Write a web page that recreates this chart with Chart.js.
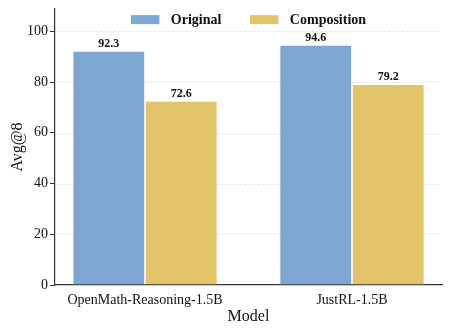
<!DOCTYPE html>
<html>
<head>
<meta charset="utf-8">
<script src="https://cdn.jsdelivr.net/npm/chart.js@4/dist/chart.umd.min.js"></script>
<style>
  html, body { margin: 0; padding: 0; background: #ffffff; }
  #wrap { width: 449px; height: 332px; }
</style>
</head>
<body>
<div id="wrap"><canvas id="c" width="449" height="332"></canvas></div>
<script>
const categories = ["OpenMath-Reasoning-1.5B", "JustRL-1.5B"];
const seriesNames = ["Original", "Composition"];
const originalValues = [92.3, 94.6];
const compositionValues = [72.6, 79.2];
const yTicks = [0, 20, 40, 60, 80, 100];
const colors = ["#7FA7D4", "#E3C46B"];

const SERIF = "'Liberation Serif', 'Times New Roman', serif";

function toPoints(vals) {
  return vals.map((v, i) => ({ x: i, y: v }));
}

const gridPlugin = {
  id: 'dashGrid',
  beforeDatasetsDraw(chart) {
    const { ctx, chartArea, scales } = chart;
    const y = scales.y;
    ctx.save();
    ctx.strokeStyle = 'rgba(200,200,200,0.55)';
    ctx.lineWidth = 0.8;
    ctx.setLineDash([2.5, 2]);
    yTicks.forEach(t => {
      if (t === 0) return;
      const py = Math.round(y.getPixelForValue(t)) + 0.5;
      ctx.beginPath();
      ctx.moveTo(chartArea.left, py);
      ctx.lineTo(chartArea.right, py);
      ctx.stroke();
    });
    ctx.restore();
  }
};

const labelPlugin = {
  id: 'barLabels',
  afterDatasetsDraw(chart) {
    const { ctx } = chart;
    ctx.save();
    ctx.font = "bold 12px " + SERIF;
    ctx.fillStyle = '#111';
    ctx.textAlign = 'center';
    ctx.textBaseline = 'bottom';
    chart.data.datasets.forEach((ds, di) => {
      const meta = chart.getDatasetMeta(di);
      meta.data.forEach((bar, i) => {
        ctx.fillText(ds.data[i].y.toFixed(1), bar.x, bar.y - 1);
      });
    });
    ctx.restore();
  }
};

const legendPlugin = {
  id: 'customLegend',
  afterDraw(chart) {
    const { ctx, chartArea } = chart;
    ctx.save();
    ctx.font = "bold 14px " + SERIF;
    const boxW = 28.5, boxH = 9, gapText = 11.4, gapItem = 28.6;
    const widths = seriesNames.map(n => ctx.measureText(n).width);
    let total = 0;
    widths.forEach((w, i) => { total += boxW + gapText + w; if (i < widths.length - 1) total += gapItem; });
    let x = (chartArea.left + chartArea.right) / 2 - total / 2;
    const cy = 19.6;
    ctx.textBaseline = 'middle';
    ctx.textAlign = 'left';
    seriesNames.forEach((n, i) => {
      ctx.fillStyle = colors[i];
      ctx.fillRect(x, cy - boxH / 2, boxW, boxH);
      x += boxW + gapText;
      ctx.fillStyle = '#111';
      ctx.fillText(n, x, cy + 0.5);
      x += widths[i] + gapItem;
    });
    ctx.restore();
  }
};

new Chart(document.getElementById('c'), {
  type: 'bar',
  data: {
    datasets: [
      { label: seriesNames[0], data: toPoints(originalValues), backgroundColor: colors[0], borderColor: 'rgba(255,255,255,0.7)', borderWidth: 0.8, categoryPercentage: 0.7, barPercentage: 1.0 },
      { label: seriesNames[1], data: toPoints(compositionValues), backgroundColor: colors[1], borderColor: 'rgba(255,255,255,0.7)', borderWidth: 0.8, categoryPercentage: 0.7, barPercentage: 1.0 }
    ]
  },
  options: {
    responsive: false,
    animation: false,
    devicePixelRatio: 1,
    layout: { padding: { top: 7, right: 7, bottom: 0, left: 0 } },
    plugins: { legend: { display: false }, tooltip: { enabled: false } },
    scales: {
      x: {
        type: 'linear',
        min: -0.435,
        max: 1.435,
        offset: false,
        afterBuildTicks(scale) { scale.ticks = categories.map((c, i) => ({ value: i })); },
        ticks: {
          callback: (v) => categories[v] !== undefined ? categories[v] : '',
          font: { family: SERIF, size: 14, lineHeight: 1 },
          color: '#111',
          padding: 0,
          maxRotation: 0,
          autoSkip: false
        },
        grid: { display: false },
        border: { display: true, color: '#333', width: 1.2 },
        title: { display: true, text: 'Model', font: { family: SERIF, size: 16 }, color: '#111', padding: { top: 0, bottom: 6 } },
        afterFit(scale) { scale.height = 47; }
      },
      y: {
        min: 0,
        max: 108.8,
        afterBuildTicks(scale) { scale.ticks = yTicks.map(v => ({ value: v })); },
        ticks: { font: { family: SERIF, size: 14, lineHeight: 1 }, color: '#111', padding: 2 },
        grid: { drawOnChartArea: false, drawTicks: true, tickLength: 5, tickColor: '#333', tickWidth: 1 },
        border: { display: true, color: '#333', width: 1.2 },
        title: { display: true, text: 'Avg@8', font: { family: SERIF, size: 16 }, color: '#111', padding: { top: 8, bottom: 0 } },
        afterFit(scale) { scale.width = 55; }
      }
    }
  },
  plugins: [gridPlugin, labelPlugin, legendPlugin]
});
</script>
</body>
</html>
